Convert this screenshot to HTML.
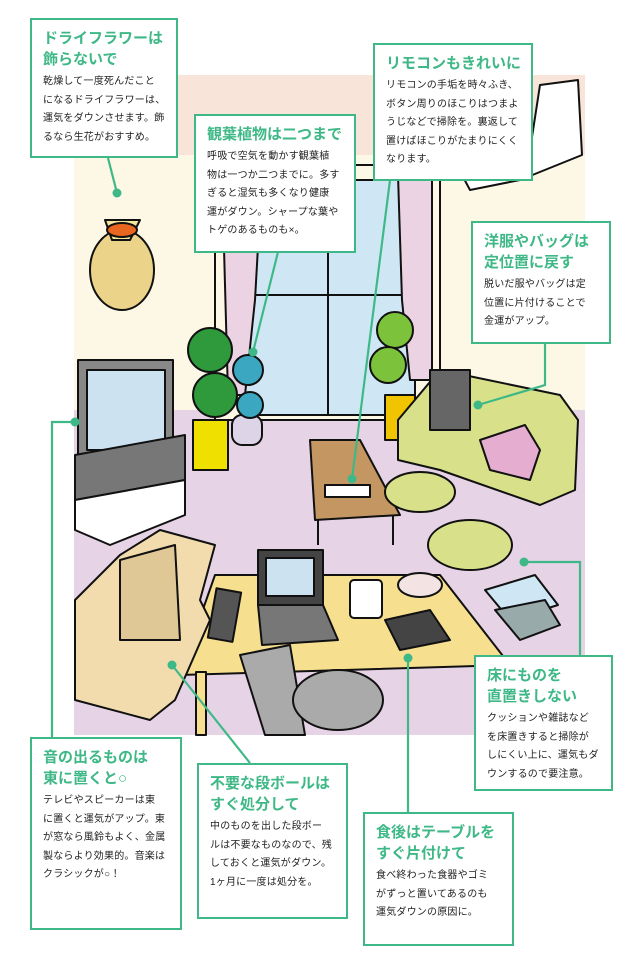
<!DOCTYPE html>
<html><head><meta charset="utf-8"><style>
html,body{margin:0;padding:0;background:#fff;}
body{width:640px;height:954px;position:relative;overflow:hidden;font-family:"Liberation Sans","Noto Sans CJK JP",sans-serif;}
.b{position:absolute;background:#fff;border:2.5px solid #3fb887;box-sizing:border-box;padding:8px 2px 6px 11px;white-space:nowrap;}
.b h3{margin:0 0 3px 0;color:#3fb887;font-size:15px;line-height:21px;font-weight:bold;letter-spacing:0;}
.b p{margin:0;color:#222;font-size:10px;line-height:18.5px;letter-spacing:0.2px;}
svg{position:absolute;left:0;top:0;}
</style></head><body>
<svg width="640" height="954" viewBox="0 0 640 954">
<g stroke="#111" stroke-width="2" stroke-linejoin="round">
<rect x="74" y="75" width="511" height="90" fill="#f8e4d8" stroke="none"/>
<rect x="74" y="155" width="511" height="270" fill="#fdf8e6" stroke="none"/>
<rect x="74" y="410" width="511" height="325" fill="#e6d4e6" stroke="none"/>
<!-- window -->
<rect x="215" y="165" width="225" height="255" fill="#fdf8e6"/>
<rect x="245" y="180" width="170" height="235" fill="#cfe7f4"/>
<line x1="328" y1="180" x2="328" y2="415"/><line x1="245" y1="295" x2="415" y2="295"/>
<path d="M222,175 L262,175 L255,300 L245,395 L228,395 Z" fill="#ecd3e4"/>
<path d="M398,175 L432,175 L432,380 L410,380 L402,300 Z" fill="#ecd3e4"/>
<!-- AC -->
<path d="M540,85 L578,80 L582,155 L520,180 L470,190 L462,175 L530,150 Z" fill="#fff"/>
<!-- dried flower -->
<ellipse cx="122" cy="270" rx="32" ry="40" fill="#ecd38a"/>
<path d="M105,220 L140,220 L130,240 L112,240Z" fill="#f6e7a0"/>
<ellipse cx="122" cy="230" rx="15" ry="7" fill="#e8661f"/>
<!-- plants -->
<rect x="193" y="420" width="35" height="50" fill="#f0e000"/>
<rect x="232" y="415" width="30" height="30" rx="10" fill="#ddd4e8"/>
<circle cx="210" cy="350" r="22" fill="#2e9a3c"/><circle cx="215" cy="395" r="22" fill="#2e9a3c"/>
<circle cx="248" cy="370" r="15" fill="#3ba7c0"/><circle cx="250" cy="405" r="13" fill="#3ba7c0"/>
<rect x="385" y="395" width="30" height="45" fill="#f0c400"/>
<circle cx="395" cy="330" r="18" fill="#7cc23a"/><circle cx="388" cy="365" r="18" fill="#7cc23a"/>
<!-- TV -->
<rect x="78" y="360" width="95" height="100" fill="#888"/>
<rect x="87" y="370" width="78" height="80" fill="#cce2f0"/>
<polygon points="75,455 185,435 185,480 75,500" fill="#777"/>
<polygon points="75,500 185,480 185,515 110,545 75,530" fill="#fff"/>
<!-- coffee table -->
<polygon points="310,440 360,440 400,515 315,520" fill="#c49662"/>
<line x1="318" y1="520" x2="318" y2="545"/><line x1="393" y1="515" x2="393" y2="545"/>
<rect x="325" y="485" width="45" height="12" fill="#fff"/>
<!-- sofa -->
<path d="M398,420 L440,370 L560,395 L578,420 L575,490 L540,505 L440,470 L398,460 Z" fill="#d8e18a"/>
<path d="M430,370 L470,370 L470,430 L430,430 Z" fill="#666"/>
<path d="M480,440 L525,425 L540,450 L530,480 L490,470 Z" fill="#e5aed0"/>
<ellipse cx="420" cy="492" rx="35" ry="20" fill="#d8e18a"/>
<ellipse cx="470" cy="545" rx="42" ry="25" fill="#d8e18a"/>
<!-- magazines -->
<polygon points="485,590 535,575 558,605 510,620" fill="#cfe7f4"/>
<polygon points="495,610 545,600 560,625 520,640" fill="#9aa"/>
<!-- desk -->
<polygon points="215,575 440,575 510,665 180,675" fill="#f6e08f"/>
<rect x="196" y="672" width="10" height="63" fill="#f6e08f"/>
<rect x="258" y="550" width="65" height="55" fill="#444"/>
<rect x="266" y="558" width="48" height="38" fill="#cce2f0"/>
<polygon points="258,605 323,605 338,640 262,645" fill="#777"/>
<rect x="212" y="590" width="25" height="50" fill="#555" transform="rotate(10 224 615)"/>
<rect x="350" y="580" width="32" height="38" rx="4" fill="#fff"/>
<polygon points="385,620 430,610 450,640 400,650" fill="#444"/>
<ellipse cx="420" cy="585" rx="22" ry="12" fill="#f3e3e3"/>
<!-- chair -->
<path d="M240,655 L290,645 L305,735 L265,735 Z" fill="#aaa"/>
<ellipse cx="338" cy="700" rx="45" ry="30" fill="#aaa"/>
<!-- box -->
<polygon points="75,600 120,555 160,530 215,545 200,600 210,620 175,700 150,720 75,700" fill="#f2dcae"/>
<polygon points="120,560 175,545 180,640 120,640" fill="#e0c796"/>
</g>
<g stroke="#3fb887" stroke-width="2.2" fill="none">
<line x1="108" y1="158" x2="117" y2="193"/>
<line x1="278" y1="252" x2="253" y2="352"/>
<line x1="390" y1="180" x2="352" y2="479"/>
<polyline points="545,343 545,385 478,405"/>
<polyline points="524,562 580,562 580,655"/>
<line x1="408" y1="658" x2="408" y2="812"/>
<line x1="172" y1="665" x2="250" y2="763"/>
<polyline points="75,422 52,422 52,737"/>
</g>
<g fill="#3fb887">
<circle cx="117" cy="193" r="4.5"/><circle cx="253" cy="352" r="4.5"/><circle cx="352" cy="479" r="4.5"/>
<circle cx="478" cy="405" r="4.5"/><circle cx="524" cy="562" r="4.5"/><circle cx="408" cy="658" r="4.5"/>
<circle cx="172" cy="665" r="4.5"/><circle cx="75" cy="422" r="4.5"/>
</g>
</svg>

<div class="b" style="left:30px;top:18px;width:148px;height:140px;"><h3>ドライフラワーは<br>飾らないで</h3><p>乾燥して一度死んだこと<br>になるドライフラワーは、<br>運気をダウンさせます。飾<br>るなら生花がおすすめ。</p></div>
<div class="b" style="left:194px;top:114px;width:162px;height:139px;"><h3>観葉植物は二つまで</h3><p>呼吸で空気を動かす観葉植<br>物は一つか二つまでに。多す<br>ぎると湿気も多くなり健康<br>運がダウン。シャープな葉や<br>トゲのあるものも×。</p></div>
<div class="b" style="left:373px;top:43px;width:160px;height:138px;"><h3>リモコンもきれいに</h3><p>リモコンの手垢を時々ふき、<br>ボタン周りのほこりはつまよ<br>うじなどで掃除を。裏返して<br>置けばほこりがたまりにくく<br>なります。</p></div>
<div class="b" style="left:471px;top:221px;width:140px;height:123px;"><h3>洋服やバッグは<br>定位置に戻す</h3><p>脱いだ服やバッグは定<br>位置に片付けることで<br>金運がアップ。</p></div>
<div class="b" style="left:474px;top:655px;width:139px;height:136px;"><h3>床にものを<br>直置きしない</h3><p>クッションや雑誌など<br>を床置きすると掃除が<br>しにくい上に、運気もダ<br>ウンするので要注意。</p></div>
<div class="b" style="left:30px;top:737px;width:152px;height:193px;"><h3>音の出るものは<br>東に置くと○</h3><p>テレビやスピーカーは東<br>に置くと運気がアップ。東<br>が窓なら風鈴もよく、金属<br>製ならより効果的。音楽は<br>クラシックが○！</p></div>
<div class="b" style="left:197px;top:763px;width:151px;height:156px;"><h3>不要な段ボールは<br>すぐ処分して</h3><p>中のものを出した段ボー<br>ルは不要なものなので、残<br>しておくと運気がダウン。<br>1ヶ月に一度は処分を。</p></div>
<div class="b" style="left:363px;top:812px;width:151px;height:134px;"><h3>食後はテーブルを<br>すぐ片付けて</h3><p>食べ終わった食器やゴミ<br>がずっと置いてあるのも<br>運気ダウンの原因に。</p></div>
</body></html>
